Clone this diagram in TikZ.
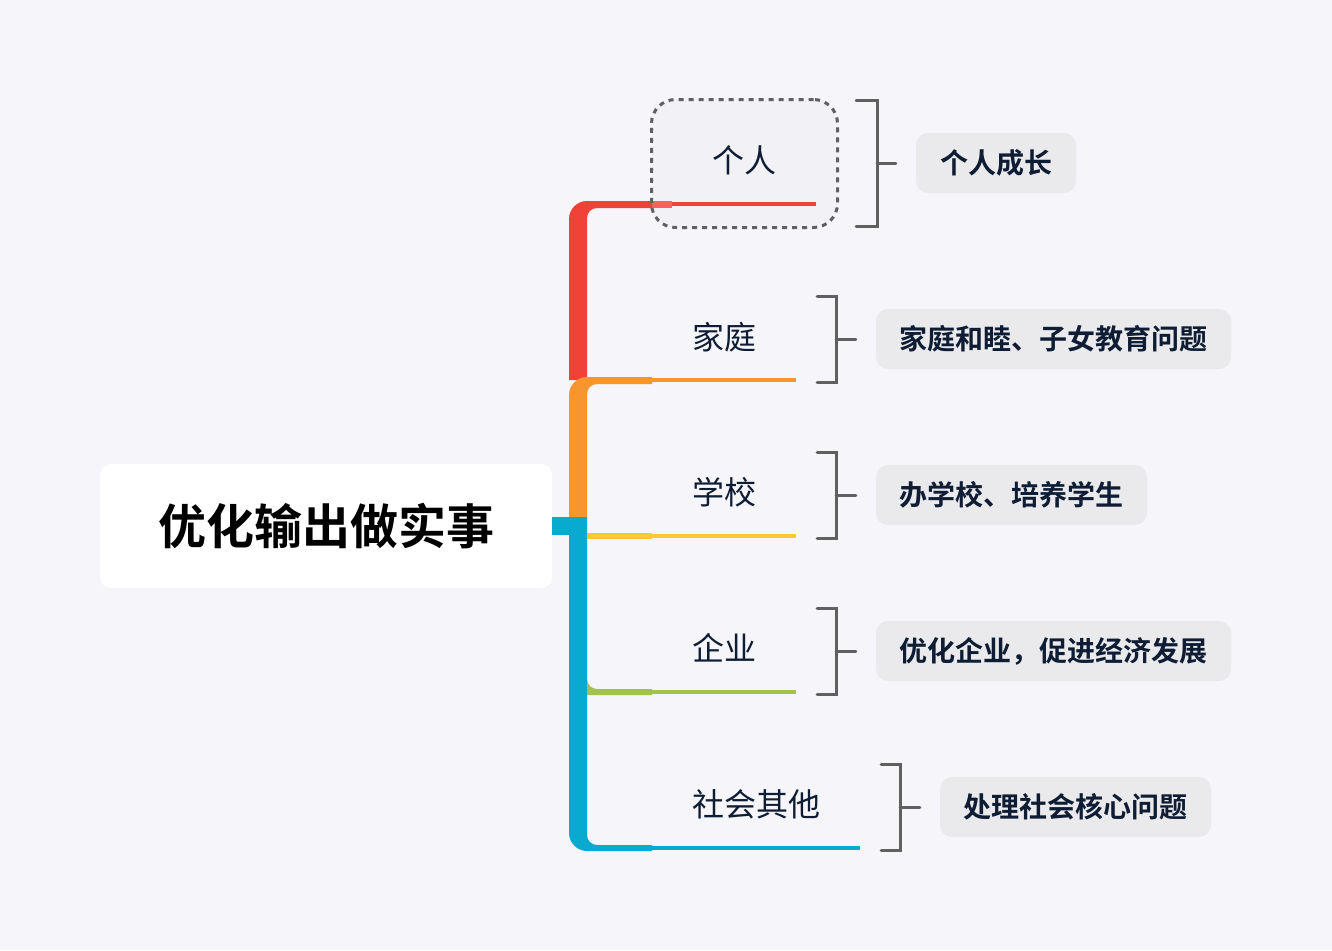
\documentclass[tikz,border=0pt]{standalone}
\usepackage{fontspec}
\setmainfont{Noto Sans CJK SC}[BoldFont={Noto Sans CJK SC Bold}]
\usetikzlibrary{positioning}
\definecolor{bg}{RGB}{245,245,250}
\definecolor{ink}{RGB}{14,28,52}
\definecolor{cred}{RGB}{240,66,54}
\definecolor{credlight}{RGB}{242,100,92}
\definecolor{corange}{RGB}{247,150,46}
\definecolor{cyellow}{RGB}{252,201,52}
\definecolor{cgreen}{RGB}{161,195,74}
\definecolor{ccyan}{RGB}{8,170,208}
\definecolor{bracketgray}{RGB}{96,96,96}
\definecolor{tagfill}{RGB}{234,234,236}
\definecolor{selfill}{RGB}{241,241,246}
\tikzset{
  topic/.style={text=ink, font=\fontsize{32}{36}\selectfont, inner sep=0pt, anchor=center},
  tag/.style={fill=tagfill, rounded corners=12pt, text=ink, font=\fontsize{28}{32}\selectfont\bfseries, inner sep=0pt, anchor=center},
  thinline/.style={line width=4pt},
  bracket/.style={draw=bracketgray, line width=3pt, line cap=round, line join=miter},
  selframe/.style={rounded corners=24pt, minimum width=186pt, minimum height=128pt, inner sep=0pt},
}
\begin{document}
\begin{tikzpicture}[x=1pt,y=-1pt]
\useasboundingbox[fill=bg] (0,0) rectangle (1332,950);

% central node
\node[fill=white, rounded corners=11pt, minimum width=452pt, minimum height=124pt, inner sep=0pt,
      font=\fontsize{48}{52}\selectfont\bfseries, text=black] (root) at (326,526) {优化输出做实事};

% selection frame background around the first topic
\node[selframe, fill=selfill] (selbg) at (744.5,163.5) {};

% trunk and elbows
\fill[cred] (569,380) -- (569,219) .. controls (569,209.1) and (577.1,201) .. (587,201)
  -- (652,201) -- (652,208) -- (597,208) .. controls (591.5,208) and (587,212.5) .. (587,218)
  -- (587,380) -- cycle;
\fill[credlight] (652,201) rectangle (672,208);
\fill[corange] (569,517) -- (569,395) .. controls (569,385.1) and (577.1,377) .. (587,377)
  -- (652,377) -- (652,384) -- (597,384) .. controls (591.5,384) and (587,388.5) .. (587,394)
  -- (587,517) -- cycle;
\fill[ccyan] (569,517) -- (569,833) .. controls (569,842.9) and (577.1,851) .. (587,851)
  -- (652,851) -- (652,845) -- (597,845) .. controls (591.5,845) and (587,840.5) .. (587,835)
  -- (587,517) -- cycle;
\fill[ccyan] (root.east |- 0,517) rectangle (569,535);
\fill[cyellow] (587,533) rectangle (652,539);
\fill[cgreen] (587,679) .. controls (587,684.5) and (591.5,689) .. (597,689) -- (652,689)
  -- (652,695) -- (587,695) -- cycle;

% topic labels
\node[topic] (t1) at (744,160) {个人};
\node[topic] (t2) at (724,337) {家庭};
\node[topic] (t3) at (724,492) {学校};
\node[topic] (t4) at (724,648) {企业};
\node[topic] (t5) at (756,804) {社会其他};

% underlines
\coordinate (u1a) at (672,204); \coordinate (u1b) at (816,204);
\coordinate (u2a) at (652,380); \coordinate (u2b) at (796,380);
\coordinate (u3a) at (652,536); \coordinate (u3b) at (796,536);
\coordinate (u4a) at (652,692); \coordinate (u4b) at (796,692);
\coordinate (u5a) at (652,848); \coordinate (u5b) at (860,848);
\draw[thinline, cred] (u1a) -- (u1b);
\draw[thinline, corange] (u2a) -- (u2b);
\draw[thinline, cyellow] (u3a) -- (u3b);
\draw[thinline, cgreen] (u4a) -- (u4b);
\draw[thinline, ccyan] (u5a) -- (u5b);

% dashed selection outline
\node[selframe, draw=bracketgray, line width=3pt, dash pattern=on 5pt off 5pt] (sel) at (selbg) {};

% detail tags
\node[tag, minimum width=160pt, minimum height=60pt] (d1) at (996,163) {个人成长};
\node[tag, minimum width=355pt, minimum height=60pt] (d2) at (1053.5,339) {家庭和睦、子女教育问题};
\node[tag, minimum width=271pt, minimum height=60pt] (d3) at (1011.5,495) {办学校、培养学生};
\node[tag, minimum width=355pt, minimum height=60pt] (d4) at (1053.5,651) {优化企业，促进经济发展};
\node[tag, minimum width=271pt, minimum height=60pt] (d5) at (1075.5,807) {处理社会核心问题};

% brackets: open ends, spine and middle tick
\coordinate (b1t) at (856,100); \coordinate (b1b) at (856,226); \coordinate (b1m) at (877,163);
\coordinate (b2t) at (817,296); \coordinate (b2b) at (817,382); \coordinate (b2m) at (836,339);
\coordinate (b3t) at (817,452); \coordinate (b3b) at (817,538); \coordinate (b3m) at (836,495);
\coordinate (b4t) at (817,608); \coordinate (b4b) at (817,694); \coordinate (b4m) at (836,651);
\coordinate (b5t) at (881,764); \coordinate (b5b) at (881,850); \coordinate (b5m) at (900,807);
\foreach \i/\d in {1/d1,2/d2,3/d3,4/d4,5/d5}{
  \draw[bracket] (b\i t) -- (b\i t -| b\i m) -- (b\i b -| b\i m) -- (b\i b);
  \draw[bracket] (b\i m) -- ([xshift=-20pt]\d.west |- b\i m);
}
\end{tikzpicture}
\end{document}
